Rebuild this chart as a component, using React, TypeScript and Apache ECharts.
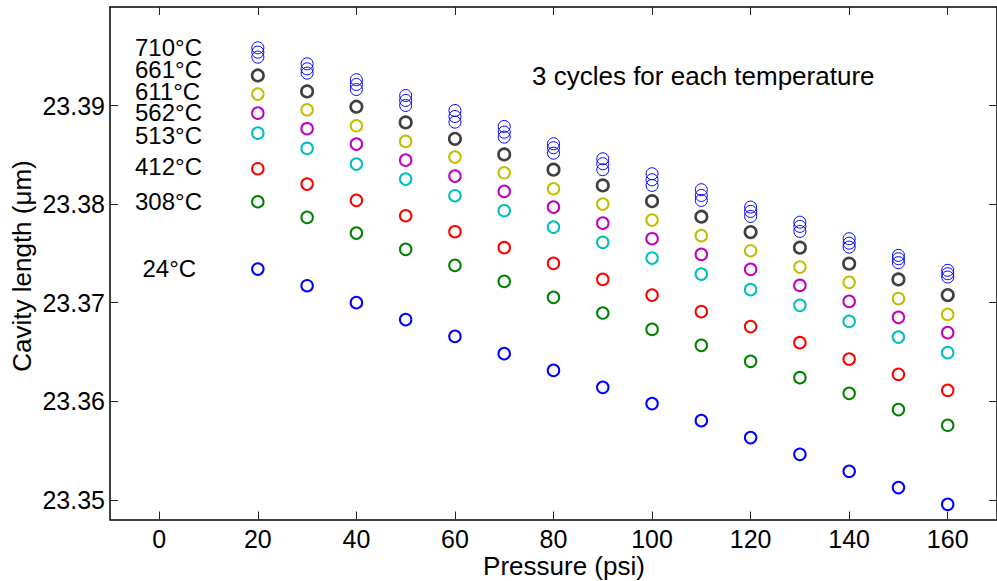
import React, { useEffect, useRef } from "react";
import * as echarts from "echarts";

const pressure = [20, 30, 40, 50, 60, 70, 80, 90, 100, 110, 120, 130, 140, 150, 160];
const xTicks = [0, 20, 40, 60, 80, 100, 120, 140, 160];
const yTicks = [23.35, 23.36, 23.37, 23.38, 23.39];

// 710°C, three cycles
const c710a = [23.39586, 23.39424, 23.39262, 23.39102, 23.3895, 23.38788, 23.38613, 23.3846, 23.38308, 23.38146, 23.3797, 23.37817, 23.37649, 23.3748, 23.37328];
const c710b = [23.39542, 23.39373, 23.39214, 23.39052, 23.38889, 23.3873, 23.38572, 23.3841, 23.38247, 23.38088, 23.37926, 23.37774, 23.37604, 23.37446, 23.37294];
const c710c = [23.39491, 23.39329, 23.39163, 23.39001, 23.38832, 23.3868, 23.38517, 23.38349, 23.3819, 23.38038, 23.37875, 23.37723, 23.37564, 23.37406, 23.3726];
const t661 = [23.39305, 23.39143, 23.38988, 23.38829, 23.38663, 23.38504, 23.38349, 23.3819, 23.3803, 23.37872, 23.37716, 23.37558, 23.37396, 23.37236, 23.37077];
const t611 = [23.39116, 23.38957, 23.38795, 23.38636, 23.38477, 23.38318, 23.38156, 23.38, 23.37838, 23.3768, 23.37527, 23.37361, 23.37206, 23.37041, 23.36881];
const t562 = [23.38923, 23.38765, 23.38609, 23.38446, 23.38284, 23.38129, 23.3797, 23.37807, 23.37649, 23.3749, 23.37338, 23.37175, 23.37013, 23.36851, 23.36696];
const t513 = [23.3872, 23.38565, 23.38406, 23.38254, 23.38085, 23.37933, 23.37767, 23.37612, 23.37452, 23.3729, 23.37132, 23.36973, 23.3681, 23.36651, 23.36493];
const t412 = [23.38359, 23.38203, 23.38038, 23.37882, 23.3772, 23.37558, 23.37399, 23.37236, 23.37077, 23.36909, 23.36757, 23.36594, 23.36428, 23.36273, 23.36111];
const t308 = [23.38024, 23.37865, 23.37706, 23.37541, 23.37378, 23.37216, 23.37054, 23.36895, 23.36729, 23.36567, 23.36405, 23.36239, 23.3608, 23.35915, 23.35756];
const t24 = [23.37341, 23.37172, 23.37, 23.36828, 23.36658, 23.36483, 23.36313, 23.36141, 23.35976, 23.35803, 23.35631, 23.35461, 23.35289, 23.35124, 23.34954];

const tempLabels = ["710°C", "661°C", "611°C", "562°C", "513°C", "412°C", "308°C", "24°C"];
const noteText = "3 cycles for each temperature";
const xName = "Pressure (psi)";
const yName = "Cavity length (μm)";

const FONT = "Liberation Sans, Arial, Helvetica, sans-serif";

export default function App() {
  const ref = useRef<HTMLDivElement>(null);
  useEffect(() => {
    if (!ref.current) return;
    const chart = echarts.init(ref.current, null, { renderer: "svg" });

    const mk = (name: string, vals: number[], color: string, bw: number, size: number) => ({
      name,
      type: "scatter",
      symbol: "circle",
      symbolSize: size,
      data: pressure.map((p, i) => [p, vals[i]]),
      itemStyle: { color: "rgba(0,0,0,0)", borderColor: color, borderWidth: bw, opacity: 1 },
      emphasis: { disabled: true },
      silent: true,
    });

    const seriesList = [
      mk("24", t24, "#0000ff", 2, 11.5),
      mk("308", t308, "#008000", 2, 11.5),
      mk("412", t412, "#ff0000", 2, 11.5),
      mk("513", t513, "#00bfbf", 2, 11.5),
      mk("562", t562, "#bf00bf", 2, 11.5),
      mk("611", t611, "#bfbf00", 2, 11.5),
      mk("661", t661, "#404040", 2.6, 11.5),
      mk("710a", c710a, "#0000ff", 1, 12),
      mk("710b", c710b, "#0000ff", 1, 12),
      mk("710c", c710c, "#0000ff", 1, 12),
    ];

    const labelPos = [
      [135, 47], [135, 69], [135, 91], [135, 112.5], [135, 135], [135, 166], [135, 201], [142.5, 268.5],
    ];

    const axisLine = { show: true, onZero: false, lineStyle: { color: "#000", width: 1.5 } };
    const tick = (vals: number[]) => ({ show: true, inside: true, length: 8, customValues: vals, lineStyle: { color: "#222", width: 1 } });

    chart.setOption({
      animation: false,
      backgroundColor: "#fff",
      grid: { left: 110, top: 7, right: -7, bottom: 61.5, containLabel: false },
      xAxis: [
        {
          type: "value", min: -10, max: 170, position: "bottom",
          axisLine, axisTick: tick(xTicks), splitLine: { show: false },
          axisLabel: { customValues: xTicks, margin: 7, fontSize: 25, color: "#000", fontFamily: FONT },
        },
        {
          type: "value", min: -10, max: 170, position: "top",
          axisLine, axisTick: tick(xTicks), splitLine: { show: false }, axisLabel: { show: false },
        },
      ],
      yAxis: [
        {
          type: "value", min: 23.348, max: 23.4, position: "left",
          axisLine, axisTick: tick(yTicks), splitLine: { show: false },
          axisLabel: {
            customValues: yTicks, margin: 5, fontSize: 25, color: "#000", fontFamily: FONT,
            formatter: (v: number) => v.toFixed(2),
          },
        },
        {
          type: "value", min: 23.348, max: 23.4, position: "right",
          axisLine, axisTick: tick(yTicks), splitLine: { show: false }, axisLabel: { show: false },
        },
      ],
      series: seriesList,
      graphic: [
        ...tempLabels.map((t, i) => ({
          type: "text", x: labelPos[i][0], y: labelPos[i][1], silent: true,
          style: { text: t, fontSize: 24, lineHeight: 20, fontFamily: FONT, fill: "#000", align: "left", verticalAlign: "middle" },
        })),
        {
          type: "text", x: 532, y: 76, silent: true,
          style: { text: noteText, fontSize: 26, fontFamily: FONT, fill: "#000", align: "left", verticalAlign: "middle" },
        },
        {
          type: "text", x: 564, y: 566, silent: true,
          style: { text: xName, fontSize: 26, fontFamily: FONT, fill: "#000", align: "center", verticalAlign: "middle" },
        },
        {
          type: "text", x: 22, y: 266, rotation: Math.PI / 2, silent: true,
          style: { text: yName, fontSize: 26, fontFamily: FONT, fill: "#000", align: "center", verticalAlign: "middle" },
        },
      ],
    });
    return () => chart.dispose();
  }, []);
  return <div ref={ref} style={{ position: "fixed", left: 0, top: 0, width: 997, height: 581 }} />;
}
